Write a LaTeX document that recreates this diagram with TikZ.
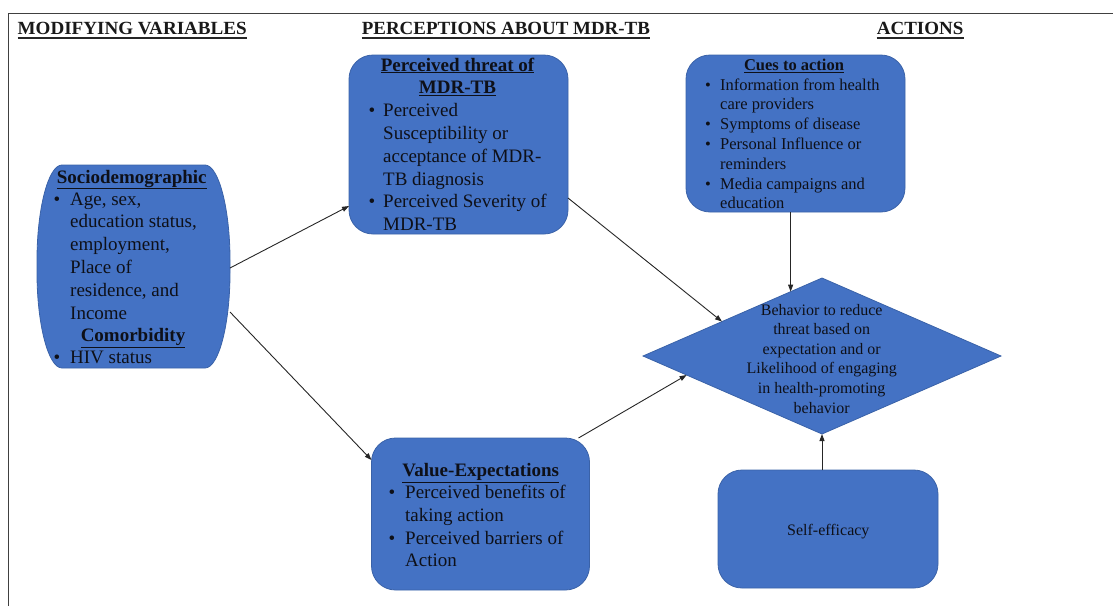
\documentclass[tikz,border=0pt]{standalone}
\usepackage{fontspec}
\setmainfont{Liberation Serif}
\usetikzlibrary{shapes.geometric,arrows.meta,calc}
\definecolor{boxblue}{HTML}{4472C4}
\definecolor{boxedge}{HTML}{3A62A8}
\definecolor{txt}{HTML}{0E1018}
\definecolor{framec}{HTML}{404040}
\newcommand\Cl[1]{\hbox to 0pt{\hss#1\hss}}
\newcommand\Bu[2]{\hbox{\makebox[#1][l]{\textbullet}#2}}
\newcommand\Co[2]{\hbox{\kern#1#2}}
\begin{document}
\begin{tikzpicture}[x=1pt,y=-1pt,
  rbox/.style={draw=boxedge,line width=0.8pt,fill=boxblue,rounded corners=24pt,inner sep=0pt,outer sep=0pt},
  dbox/.style={draw=boxedge,line width=0.8pt,fill=boxblue,diamond,inner sep=0pt,outer sep=0pt},
  conn/.style={-{Triangle[length=7pt,width=5pt]},line width=0.9pt,draw=black!85},
  hdr/.style={anchor=base west,inner sep=0pt,text=black!90},
  big/.style={anchor=base west,inner sep=0pt,text=txt,font=\fontsize{19}{22.8}\selectfont},
  bigt/.style={anchor=base,inner sep=0pt,text=txt,font=\bfseries\fontsize{19}{22.8}\selectfont},
  small/.style={anchor=base west,inner sep=0pt,text=txt,font=\fontsize{16.5}{19.8}\selectfont},
  smallt/.style={anchor=base,inner sep=0pt,text=txt,font=\bfseries\fontsize{16.5}{19.8}\selectfont},
  dtext/.style={anchor=base,inner sep=0pt,text=txt,font=\fontsize{16}{19.6}\selectfont}
]
\useasboundingbox (0,0) rectangle (1113,606);
% frame
\draw[framec,line width=1.4pt] (8.5,606) -- (8.5,13.3) -- (1113,13.3);
% headers
\node[hdr] (h1) at (17.5,34) {\resizebox{229pt}{12.3pt}{\bfseries MODIFYING VARIABLES}};
\node[hdr] (h2) at (361.7,34) {\resizebox{288pt}{12.3pt}{\bfseries PERCEPTIONS ABOUT MDR-TB}};
\node[hdr] (h3) at (876.7,34) {\resizebox{86.5pt}{12.3pt}{\bfseries ACTIONS}};
\foreach \n in {h1,h2,h3}{
  \draw[black!85,line width=1.8pt] ($(\n.base west)+(0,4)$) -- ($(\n.base east)+(0,4)$);
}
% sociodemographic shape
\node[minimum width=193pt,minimum height=203pt,inner sep=0pt,outer sep=0pt] (socio) at (133.5,266.5) {};
\draw[draw=boxedge,line width=0.8pt,fill=boxblue]
  (62,165) -- (205,165)
  .. controls (219,165) and (230,210) .. (230,260)
  -- (230,273)
  .. controls (230,323) and (219,368) .. (205,368)
  -- (62,368)
  .. controls (48,368) and (37,323) .. (37,273)
  -- (37,260)
  .. controls (37,210) and (48,165) .. (62,165) -- cycle;
% boxes
\node[rbox,minimum width=219pt,minimum height=179pt] (threat) at (458.5,144.5) {};
\node[rbox,minimum width=219pt,minimum height=157pt] (cues) at (795.5,133.5) {};
\node[rbox,minimum width=218pt,minimum height=152pt] (value) at (480.5,514) {};
\node[rbox,minimum width=220pt,minimum height=118pt] (self) at (828,529) {};
\node[dbox,minimum width=358pt,minimum height=156pt] (dia) at (822,356) {};
% connectors
\draw[conn] ([yshift=-1.5pt]socio.east) -- ([yshift=-61.5pt]threat.west);
\draw[conn] ([yshift=-45.5pt]socio.east) -- ([yshift=-22pt]value.north west);
\draw[conn] ([yshift=-53.5pt]threat.east) -- (dia.161.3);
\draw[conn] ([xshift=-11pt]value.north east) -- (dia.188.6);
\draw[conn] (cues.south -| dia.116.4) -- (dia.116.4);
\draw[conn] (self.north -| dia.south) -- (dia.south);
% texts: sociodemographic
\node[bigt] (st1) at (131.7,183) {\underline{Sociodemographic}};
\node[big] (sb1) at (53.5,205) {\vtop{\Bu{16.5pt}{Age, sex,}\Co{16.5pt}{education status,}\Co{16.5pt}{employment,}\Co{16.5pt}{Place of}\Co{16.5pt}{residence, and}\Co{16.5pt}{Income}}};
\node[bigt] (st2) at (133,341.7) {\underline{Comorbidity}};
\node[big] (sb2) at (53.5,363.5) {\vtop{\Bu{16.5pt}{HIV status}}};
% threat
\node[bigt] (tt1) at (457.5,71) {\underline{Perceived threat of}};
\node[bigt] (tt2) at (457.5,93.8) {\underline{MDR-TB}};
\node[big] (tb) at (368.5,116.7) {\vtop{\Bu{14.5pt}{Perceived}\Co{14.5pt}{Susceptibility or}\Co{14.5pt}{acceptance of MDR-}\Co{14.5pt}{TB diagnosis}\Bu{14.5pt}{Perceived Severity of}\Co{14.5pt}{MDR-TB}}};
% cues
\node[smallt] (ct) at (794,70.7) {\underline{Cues to action}};
\node[small] (cb) at (705,90) {\vtop{\Bu{15pt}{Information from health}\Co{15pt}{care providers}\Bu{15pt}{Symptoms of disease}\Bu{15pt}{Personal Influence or}\Co{15pt}{reminders}\Bu{15pt}{Media campaigns and}\Co{15pt}{education}}};
% diamond text
\node[dtext] (dt) at (821.7,315) {\vtop{\Cl{Behavior to reduce}\Cl{threat based on}\Cl{expectation and or}\Cl{Likelihood of engaging}\Cl{in health-promoting}\Cl{behavior}}};
% value
\node[bigt] (vt) at (480.7,476.7) {\underline{Value-Expectations}};
\node[big] (vb) at (388.5,498.5) {\vtop{\Bu{16.5pt}{Perceived benefits of}\Co{16.5pt}{taking action}\Bu{16.5pt}{Perceived barriers of}\Co{16.5pt}{Action}}};
% self-efficacy
\node[dtext] (se) at (828.3,535) {Self-efficacy};
\end{tikzpicture}
\end{document}
